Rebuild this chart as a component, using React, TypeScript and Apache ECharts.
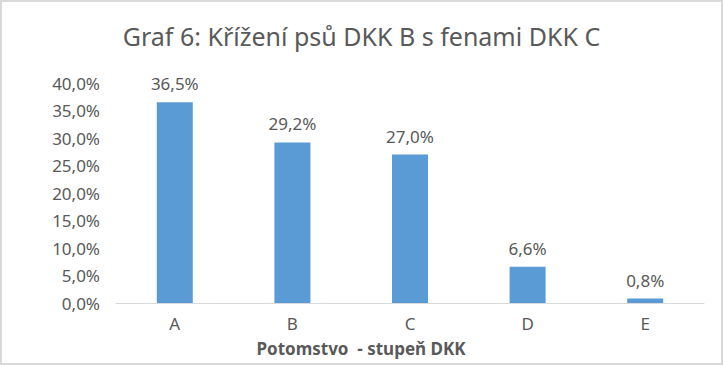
import React, { useEffect, useRef } from "react";
import * as echarts from "echarts";

const categories = ["A", "B", "C", "D", "E"];
const values = [36.5, 29.2, 27.0, 6.6, 0.8];
const yTicks = { min: 0, max: 40, interval: 5 };
const titleText = "Graf 6: Křížení psů DKK B s fenami DKK C";
const xAxisName = "Potomstvo  - stupeň DKK";

const fmt = (v: number) => v.toFixed(1).replace(".", ",") + "%";

export default function App() {
  const ref = useRef<HTMLDivElement>(null);
  useEffect(() => {
    document.body.style.margin = "0";
    const chart = echarts.init(ref.current!, null, { renderer: "svg" });
    const font = "'Noto Sans', sans-serif";
    chart.setOption({
      animation: false,
      backgroundColor: "#ffffff",
      textStyle: { fontFamily: font },
      title: {
        text: titleText,
        left: "center",
        top: 16,
        textStyle: { fontFamily: font, fontSize: 25, fontWeight: "normal", color: "#595959" },
      },
      grid: { left: 114, right: 17, top: 81, bottom: 60, outerBoundsMode: "none", containLabel: false },
      xAxis: {
        type: "category",
        data: categories,
        name: xAxisName,
        nameLocation: "middle",
        nameGap: 37,
        nameTextStyle: {
          fontFamily: font,
          fontSize: 17,
          fontWeight: "bold",
          color: "#595959",
          padding: [0, 98, 0, 0],
        },
        axisLine: { lineStyle: { color: "#d9d9d9", width: 1 } },
        axisTick: { show: false },
        axisLabel: { fontFamily: font, fontSize: 17, color: "#595959", margin: 12 },
      },
      yAxis: {
        type: "value",
        min: yTicks.min,
        max: yTicks.max,
        interval: yTicks.interval,
        splitLine: { show: false },
        axisLine: { show: false },
        axisTick: { show: false },
        axisLabel: {
          fontFamily: font,
          fontSize: 17,
          color: "#595959",
          margin: 16,
          formatter: (v: number) => fmt(v),
        },
      },
      series: [
        {
          type: "bar",
          data: values,
          barWidth: 36,
          itemStyle: { color: "#5b9bd5" },
          label: {
            show: true,
            position: "top",
            distance: 10,
            fontFamily: font,
            fontSize: 17,
            color: "#595959",
            formatter: (p: any) => fmt(p.value),
          },
        },
      ],
    });
    return () => chart.dispose();
  }, []);
  return (
    <div
      style={{
        position: "fixed",
        left: 0,
        top: 0,
        width: 723,
        height: 365,
        boxSizing: "border-box",
        border: "2px solid #d9d9d9",
        background: "#fff",
      }}
    >
      <div ref={ref} style={{ width: 719, height: 361 }} />
    </div>
  );
}
